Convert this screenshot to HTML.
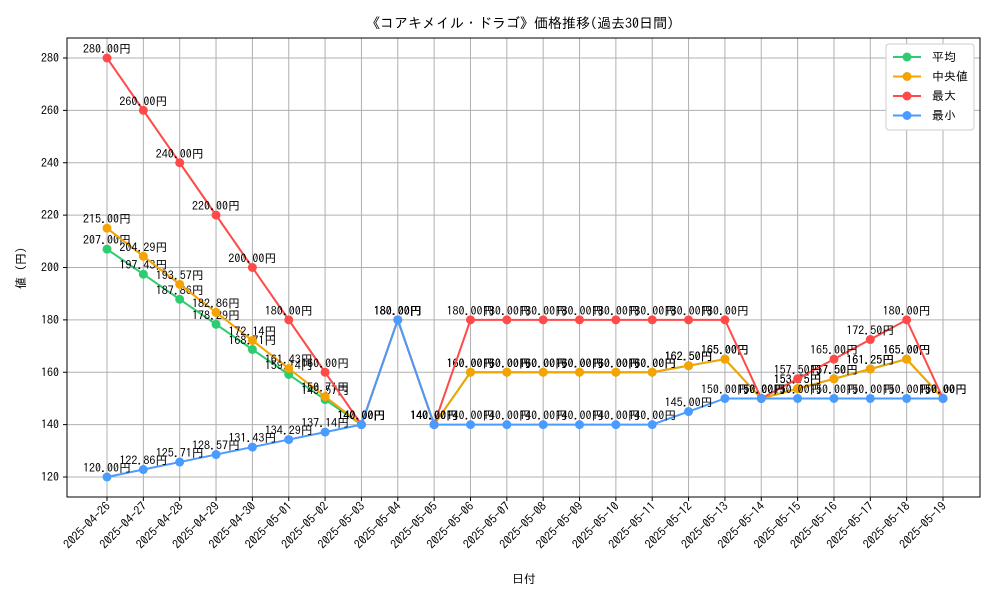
<!DOCTYPE html>
<html><head><meta charset="utf-8"><style>
body{margin:0;background:#fff;font-family:"IPAGothic","Noto Sans CJK JP",sans-serif}
svg text{font-family:"IPAGothic","Noto Sans CJK JP",sans-serif}
</style></head><body>
<svg id="c" width="1000" height="600" xmlns="http://www.w3.org/2000/svg"></svg>
<script>
const categories=["2025-04-26","2025-04-27","2025-04-28","2025-04-29","2025-04-30","2025-05-01","2025-05-02","2025-05-03","2025-05-04","2025-05-05","2025-05-06","2025-05-07","2025-05-08","2025-05-09","2025-05-10","2025-05-11","2025-05-12","2025-05-13","2025-05-14","2025-05-15","2025-05-16","2025-05-17","2025-05-18","2025-05-19"];
const avgValues=[207,197.43,187.86,178.29,168.71,159.14,149.57,140,180,140,160,160,160,160,160,160,162.5,165,150,153.75,157.5,161.25,165,150];
const medianValues=[215,204.29,193.57,182.86,172.14,161.43,150.71,140,180,140,160,160,160,160,160,160,162.5,165,150,153.75,157.5,161.25,165,150];
const maxValues=[280,260,240,220,200,180,160,140,180,140,180,180,180,180,180,180,180,180,150,157.5,165,172.5,180,150];
const minValues=[120,122.86,125.71,128.57,131.43,134.29,137.14,140,180,140,140,140,140,140,140,140,145,150,150,150,150,150,150,150];
const yTicks=[120,140,160,180,200,220,240,260,280];
const seriesNames=["平均","中央値","最大","最小"];

const svg=document.getElementById('c');const NS="http://www.w3.org/2000/svg";
const L=67,R=980,T=38,B=497;
const x=i=>107+i*(943-107)/(categories.length-1);
const y=v=>477-(v-120)*(477-58)/160;
function el(tag,attrs,parent){const e=document.createElementNS(NS,tag);for(const k in attrs)e.setAttribute(k,attrs[k]);(parent||svg).appendChild(e);return e;}
categories.forEach((c,i)=>{const g=el('line',{x1:x(i),x2:x(i),y1:T,y2:B,stroke:'#b0b0b0','stroke-width':1});

});
yTicks.forEach(v=>{const g=el('line',{x1:L,x2:R,y1:y(v),y2:y(v),stroke:'#b0b0b0','stroke-width':1});

});
const frame=el('rect',{x:L,y:T,width:R-L,height:B-T,fill:'none',stroke:'#000','stroke-width':1});


yTicks.forEach(v=>{el('line',{x1:L-4,x2:L,y1:y(v),y2:y(v),stroke:'#000'});
const t=el('text',{x:L-8,y:y(v)+4,'text-anchor':'end','font-size':12});t.textContent=v;

});
categories.forEach((c,i)=>{el('line',{x1:x(i),x2:x(i),y1:B,y2:B+4,stroke:'#000'});
const t=el('text',{x:x(i)+4,y:B+10,'text-anchor':'end','font-size':12,transform:`rotate(-45 ${x(i)+4} ${B+10})`});t.textContent=c;

});
let t=el('text',{x:520,y:28,'text-anchor':'middle','font-size':14});t.textContent="《コアキメイル・ドラゴ》価格推移(過去30日間)";


t=el('text',{x:524,y:583,'text-anchor':'middle','font-size':12});t.textContent="日付";


t=el('text',{x:25,y:268,'text-anchor':'middle','font-size':12,transform:'rotate(-90 25 268)'});t.textContent="値 (円)";


const series=[[avgValues,'#2ecc71'],[medianValues,'#f5a300'],[maxValues,'#ff4a4a'],[minValues,'#4a9bff']];
series.forEach(([vals,col],si)=>{
const g=el('g',{});


const p=el('polyline',{points:vals.map((v,i)=>x(i)+','+y(v)).join(' '),fill:'none',stroke:col,'stroke-width':2},g);


vals.forEach((v,i)=>{const c=el('circle',{cx:x(i),cy:y(v),r:4.5,fill:col},g);


const lt=el('text',{x:x(i),y:y(v)-5,'text-anchor':'middle','font-size':12,fill:'#000'},g);lt.textContent=v.toFixed(2)+"円";

});
});
const lg=el('g',{});


el('rect',{x:886,y:44,width:88,height:86,fill:'#fff',stroke:'#ccc',rx:3},lg);
series.forEach(([v,col],i)=>{const yy=57+i*19.5;
el('line',{x1:893,x2:921,y1:yy,y2:yy,stroke:col,'stroke-width':2},lg);
el('circle',{cx:907,cy:yy,r:4.5,fill:col},lg);
const tt=el('text',{x:932,y:yy+4,'font-size':12},lg);tt.textContent=seriesNames[i];

});
</script>
</body></html>
